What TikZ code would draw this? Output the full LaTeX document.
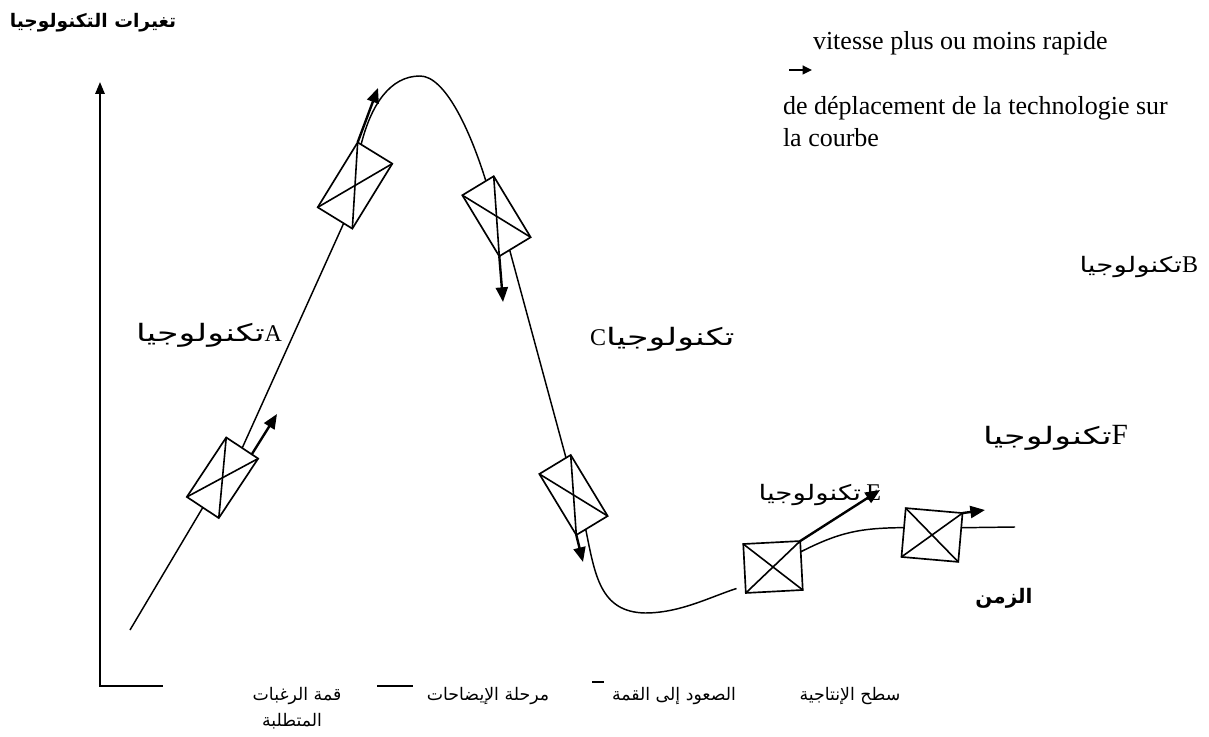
\documentclass[tikz,border=0pt]{standalone}
\usepackage{fontspec}
\setmainfont{Liberation Serif}
\newfontfamily\arabicfont[Script=Arabic]{DejaVu Sans}
\newfontfamily\arabicwide[Script=Arabic,FakeStretch=1.3]{DejaVu Sans}
\newfontfamily\arabicwider[Script=Arabic,FakeStretch=1.45]{DejaVu Sans}
\TeXXeTstate=1
\usetikzlibrary{arrows.meta,calc}

% Arabic runs, set right to left
\newcommand\artext[1]{{\arabicfont\beginR #1\endR}}
\newcommand\artextw[1]{{\arabicwide\beginR #1\endR}}
\newcommand\artextww[1]{{\arabicwider\beginR #1\endR}}
% Latin letter naming a technology
\newcommand\techletter[1]{{\fontsize{18}{18}\selectfont #1}}

\begin{document}
\begin{tikzpicture}[x=0.75pt,y=-0.75pt,
  curve/.style={line width=1.1pt},
  xbox/.style={draw, line width=1.25pt, rectangle, inner sep=0pt, outer sep=0pt},
  tallbox/.style={minimum width=27.5pt, minimum height=53.5pt},
  widebox/.style={minimum width=42.75pt, minimum height=36.75pt},
  diag/.style={line width=1.2pt},
  mover/.style={line width=1.8pt, -{Triangle[length=11pt,width=9pt]}},
  axisline/.style={line width=1.5pt},
  lbl/.style={inner sep=0pt, outer sep=0pt},
  stagelbl/.style={lbl, font=\fontsize{13}{15}\selectfont},
  legendtxt/.style={lbl, anchor=west, font=\fontsize{19.5}{22}\selectfont}]

\useasboundingbox (0,0) rectangle (1209,737);

% ---- axes ----
\coordinate (ytip) at (100,82);
\coordinate (xend) at (163,686);
\draw[axisline, {Triangle[length=9pt,width=7pt]}-] (ytip) |- (xend);
\coordinate (d1a) at (377,686); \coordinate (d1b) at (413,686);
\coordinate (d2a) at (592,682); \coordinate (d2b) at (604,682);
\draw[axisline] (d1a) -- (d1b);
\draw[axisline] (d2a) -- (d2b);

% ---- technologies moving along the curve ----
\node[xbox, tallbox, minimum width=28.7pt, rotate=-33.5] (a1) at (222.5,477.75) {};
\node[xbox, minimum width=30.5pt, minimum height=57.2pt, rotate=-31.6] (a2) at (355,185.5) {};
\node[xbox, tallbox, rotate=31.2] (c1) at (496.5,216.25) {};
\node[xbox, tallbox, rotate=31.2] (c2) at (573.5,495) {};
\node[xbox, widebox, rotate=3] (e1) at (773,567) {};
\node[xbox, widebox, rotate=-5] (e2) at (932,535) {};
\foreach \b in {a1,a2,c1,c2,e1,e2}{
  \draw[diag] (\b.north west) -- (\b.south east);
  \draw[diag] (\b.north east) -- (\b.south west);
}

% ---- the curve ----
\coordinate (start) at (130,630);
\coordinate (peak) at (420,76);
\coordinate (trough) at (645,613);
\coordinate (tail) at (1015,527);
\draw[curve] (start) -- (a1.south);
\draw[curve] (a1.north) -- ($(a2.south west)!0.75!(a2.south east)$);
\draw[curve] ($(a2.north west)!0.1!(a2.north east)$)
  .. controls (371,105) and (390,76) .. (peak)
  .. controls (445,76) and (470,130) .. ($(c1.north west)!0.75!(c1.north east)$);
\draw[curve] ($(c1.south west)!0.33!(c1.south east)$) -- ($(c2.north west)!0.85!(c2.north east)$);
\draw[curve, shorten >=7pt] ($(c2.south west)!0.3!(c2.south east)$)
  .. controls (595,575) and (600,612) .. (trough)
  .. controls (680,613) and (710,597) .. ($(e1.north west)!0.85!(e1.south west)$);
\draw[curve] ($(e1.north east)!0.22!(e1.south east)$)
  .. controls (840,532) and (860,528) .. ($(e2.north west)!0.4!(e2.south west)$);
\draw[curve] ($(e2.north east)!0.3!(e2.south east)$) -- (tail);

% ---- speed arrows ----
\coordinate (tA1) at (277,414);
\coordinate (tA2) at (378,88);
\coordinate (tC1) at (503,302);
\coordinate (tC2) at (583,562);
\coordinate (tE1) at (880,490);
\coordinate (tE2) at (985,510);
\draw[mover] ($(a1.north east)!0.2!(a1.north west)$) -- (tA1);
\draw[mover] (a2.north west) -- (tA2);
\draw[mover] (c1.south west) -- (tC1);
\draw[mover] (c2.south west) -- (tC2);
\draw[mover] (e1.north east) -- (tE1);
\draw[mover] (e2.north east) -- (tE2);

% ---- legend ----
\coordinate (lg1) at (789,70);
\coordinate (lg2) at (812,70);
\draw[line width=1.6pt, -{Triangle[length=7pt,width=6.5pt]}] (lg1) -- (lg2);
\node[legendtxt] (lgA) at (813,43) {vitesse plus ou moins rapide};
\node[legendtxt] (lgB) at (783,108) {de déplacement de la technologie sur};
\node[legendtxt] (lgC) at (783,138) {la courbe};

% ---- labels ----
\node[lbl, font=\fontsize{14}{16}\selectfont\bfseries] (title) at (93,23) {\artext{تغيرات التكنولوجيا}};
\node[lbl, anchor=east, font=\fontsize{18}{20}\selectfont] (labA) at (282,335) {\artextww{تكنولوجيا}\techletter{A}};
\node[lbl, anchor=east, font=\fontsize{16}{18}\selectfont] (labB) at (1198,267) {\artextw{تكنولوجيا}\techletter{B}};
\node[lbl, anchor=west, font=\fontsize{18}{20}\selectfont] (labC) at (590,339) {\techletter{C}\artextww{تكنولوجيا}};
\node[lbl, anchor=east, font=\fontsize{16}{18}\selectfont] (labE) at (881,495) {\artextw{تكنولوجيا} \techletter{E}};
\node[lbl, anchor=east, font=\fontsize{18}{20}\selectfont] (labF) at (1128,438) {\artextww{تكنولوجيا}{\fontsize{22}{22}\selectfont F}};
\node[lbl, font=\fontsize{15}{17}\selectfont\bfseries] (time) at (1004,598) {\artext{الزمن}};

\node[stagelbl] (st1) at (297,696) {\artext{قمة الرغبات}};
\node[stagelbl] (st1b) at (292,721) {\artext{المتطلبة}};
\node[stagelbl] (st2) at (488,696) {\artext{مرحلة الإيضاحات}};
\node[stagelbl] (st3) at (674,696) {\artext{الصعود إلى القمة}};
\node[stagelbl] (st4) at (850,696) {\artext{سطح الإنتاجية}};
\end{tikzpicture}
\end{document}
